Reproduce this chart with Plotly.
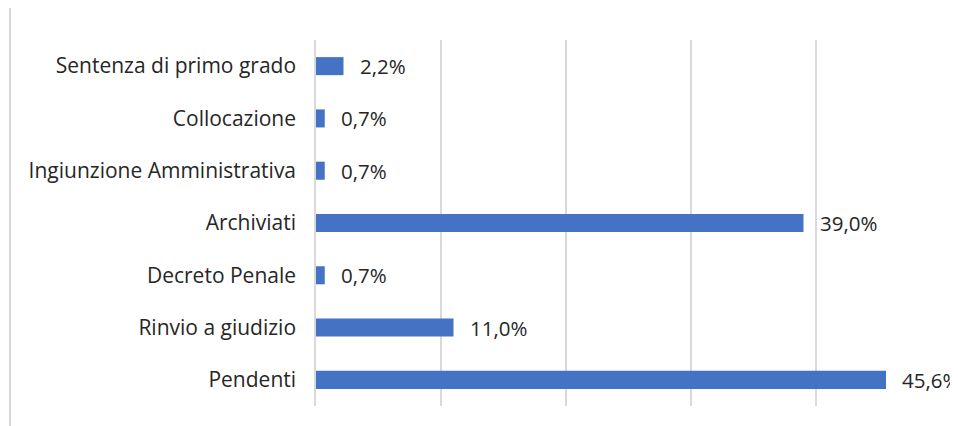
import plotly.graph_objects as go

categories = ["Pendenti", "Rinvio a giudizio", "Decreto Penale", "Archiviati",
              "Ingiunzione Amministrativa", "Collocazione", "Sentenza di primo grado"]
values = [45.6, 11.0, 0.7, 39.0, 0.7, 0.7, 2.2]
value_labels = ["45,6%", "11,0%", "0,7%", "39,0%", "0,7%", "0,7%", "2,2%"]

FONT = "Open Sans"
TXT = "#262626"

fig = go.Figure(go.Bar(
    x=values, y=categories, orientation="h",
    marker=dict(color="#4472C4", line=dict(width=0)),
    width=0.345, hoverinfo="skip",
))

for v, c, t in zip(values, categories, value_labels):
    fig.add_annotation(x=v, y=c, text=t, showarrow=False, xanchor="left",
                       xshift=14, font=dict(family=FONT, size=20.5, color=TXT))

# chart-area left border
fig.add_shape(type="line", xref="paper", yref="paper",
              x0=-0.4896, x1=-0.4896, y0=-0.06, y1=1.12,
              line=dict(color="#d9d9d9", width=2))

fig.update_layout(
    width=950, height=418,
    margin=dict(l=308, r=17, t=32, b=20, autoexpand=False),
    paper_bgcolor="white", plot_bgcolor="white",
    showlegend=False,
    xaxis=dict(range=[0, 50], dtick=10, showgrid=True, gridcolor="#d9d9d9",
               gridwidth=1.5, showticklabels=False, zeroline=False,
               showline=False, fixedrange=True),
    yaxis=dict(categoryorder="array", categoryarray=categories,
               tickfont=dict(family=FONT, size=21, color=TXT),
               ticks="outside", ticklen=14, tickcolor="rgba(0,0,0,0)",
               showline=True, linecolor="#d9d9d9", linewidth=1.5,
               range=[-0.5, 6.5], fixedrange=True, automargin=False),
)

fig.write_html("out.html")
